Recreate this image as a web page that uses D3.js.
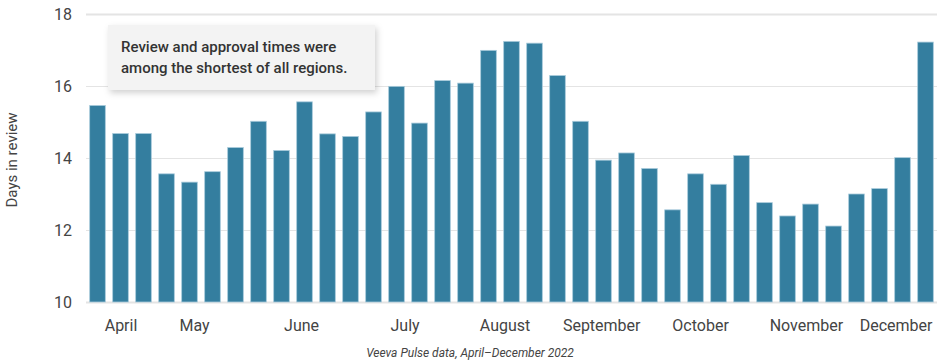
<!DOCTYPE html>
<html>
<head>
<meta charset="utf-8">
<script src="https://cdn.jsdelivr.net/npm/d3@7"></script>
<style>
  body { margin: 0; background: #fff; font-family: Roboto, "Noto Sans", sans-serif; }
  .tick text { fill: #444; }
  .axis-label { fill: #444; font-size: 15px; }
  .caption { fill: #444; font-size: 12px; font-style: italic; }
  .note { fill: #333; font-size: 15px; font-weight: 500; }
</style>
</head>
<body>
<div id="chart"></div>
<script>
// weekly days in review, April - December 2022
const weekValues = [15.46, 14.68, 14.68, 13.56, 13.33, 13.62, 14.29, 15.02, 14.21, 15.56,
                    14.67, 14.60, 15.28, 15.99, 14.97, 16.15, 16.08, 16.99, 17.24, 17.19,
                    16.29, 15.02, 13.94, 14.14, 13.71, 12.56, 13.56, 13.27, 14.07, 12.76,
                    12.39, 12.72, 12.11, 13.00, 13.15, 14.01, 17.22];
const monthNames = ["April", "May", "June", "July", "August", "September",
                    "October", "November", "December"];
// month label position, in weeks from the first bar
const monthWeeks = [1.0, 4.2, 8.85, 13.35, 17.7, 21.9, 26.2, 30.8, 34.7];
const yTicks = [10, 12, 14, 16, 18];
const noteLines = ["Review and approval times were", "among the shortest of all regions."];

const width = 940, height = 363;
const margin = { left: 86, right: 3, top: 14, bottom: 61 };
const innerWidth = width - margin.left - margin.right;
const innerHeight = height - margin.top - margin.bottom;

const svg = d3.select("#chart").append("svg")
    .attr("width", width)
    .attr("height", height);

const defs = svg.append("defs");
const shadow = defs.append("filter").attr("id", "shadow")
    .attr("x", "-10%").attr("y", "-20%").attr("width", "125%").attr("height", "150%");
shadow.append("feDropShadow")
    .attr("dx", 2).attr("dy", 3).attr("stdDeviation", 3)
    .attr("flood-color", "#000").attr("flood-opacity", 0.18);

const g = svg.append("g")
    .attr("transform", `translate(${margin.left},${margin.top})`);

const weeks = d3.range(weekValues.length);
const xScale = d3.scaleBand()
    .domain(weeks)
    .range([0, innerWidth])
    .paddingInner(0.32)
    .paddingOuter(0.16);

const yScale = d3.scaleLinear().domain([10, 18]).range([innerHeight, 0]);

// fractional week -> bar centre
const weekX = d3.scaleLinear()
    .domain([0, 1])
    .range([xScale(0) + xScale.bandwidth() / 2, xScale(1) + xScale.bandwidth() / 2]);

// grid
const yAxis = d3.axisLeft(yScale)
    .tickValues(yTicks)
    .tickSize(-innerWidth)
    .tickPadding(14)
    .tickFormat(d3.format("d"));
const yAxisG = g.append("g").call(yAxis);
yAxisG.select(".domain").remove();
yAxisG.selectAll(".tick line")
    .attr("stroke", "#e4e4e4")
    .attr("stroke-width", d => (d === 18 || d === 10) ? 2 : 1);

// bars
g.selectAll("rect.bar").data(weekValues)
    .enter().append("rect")
    .attr("class", "bar")
    .attr("x", (d, i) => xScale(i))
    .attr("y", d => yScale(d))
    .attr("width", xScale.bandwidth())
    .attr("height", d => innerHeight - yScale(d))
    .attr("fill", "#347e9f")
    .attr("stroke", "#a9cbdb")
    .attr("stroke-width", 0.8);

// month axis
const xAxis = d3.axisBottom(weekX)
    .tickValues(monthWeeks)
    .tickSize(0)
    .tickPadding(18)
    .tickFormat((d, i) => monthNames[i]);
const xAxisG = g.append("g")
    .attr("transform", `translate(0,${innerHeight})`)
    .call(xAxis);
xAxisG.select(".domain").remove();

svg.selectAll(".tick text").style("font-family", "Roboto, sans-serif").style("font-size", "16px");

// y label
svg.append("text")
    .attr("class", "axis-label")
    .attr("transform", "translate(17,160) rotate(-90)")
    .attr("text-anchor", "middle")
    .text("Days in review");

// caption
svg.append("text")
    .attr("class", "caption")
    .attr("x", 470)
    .attr("y", 357)
    .attr("text-anchor", "middle")
    .text("Veeva Pulse data, April\u2013December 2022");

// note box
const note = svg.append("g").attr("transform", "translate(108,25)");
note.append("rect")
    .attr("width", 267)
    .attr("height", 65)
    .attr("fill", "#f3f3f3")
    .attr("filter", "url(#shadow)");
note.selectAll("text").data(noteLines)
    .enter().append("text")
    .attr("class", "note")
    .attr("x", 13)
    .attr("y", (d, i) => 27 + i * 21)
    .text(d => d);
</script>
</body>
</html>
